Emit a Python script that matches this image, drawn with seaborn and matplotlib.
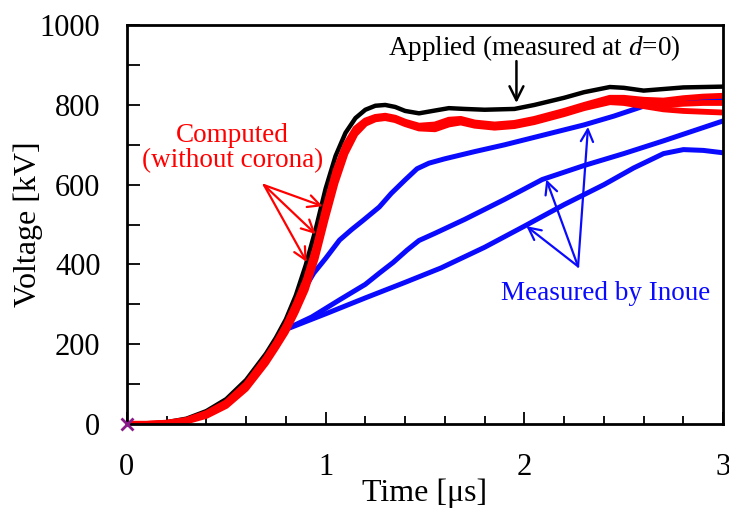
import matplotlib
matplotlib.use("Agg")
import matplotlib.pyplot as plt
import seaborn as sns
from matplotlib.ticker import MultipleLocator

# ---- data (time in µs, voltage in kV) ----
t_app = [0, 0.1, 0.2, 0.3, 0.4, 0.5, 0.6, 0.7, 0.75, 0.8, 0.85, 0.9, 0.95, 1.0, 1.05,
         1.1, 1.15, 1.2, 1.25, 1.3, 1.35, 1.4, 1.47, 1.55, 1.62, 1.7, 1.8, 1.95, 2.05,
         2.2, 2.3, 2.43, 2.5, 2.6, 2.7, 2.8, 2.9, 3.0]
v_app = [0, 0, 4, 13, 32, 62, 110, 176, 216, 262, 322, 398, 488, 590, 672,
         730, 767, 788, 798, 800, 795, 785, 779, 786, 792, 790, 788, 790, 800,
         818, 832, 845, 843, 836, 840, 844, 845, 846]

t_comp = [0, 0.1, 0.2, 0.3, 0.4, 0.5, 0.6, 0.7, 0.75, 0.8, 0.85, 0.9, 0.95, 1.0, 1.05,
          1.1, 1.15, 1.2, 1.25, 1.3, 1.35, 1.4, 1.47, 1.55, 1.62, 1.68, 1.75, 1.85,
          1.95, 2.05, 2.2, 2.3, 2.43, 2.5, 2.6, 2.7, 2.8, 2.9, 3.0]
v_comp1 = [0, 0, 3, 10, 27, 54, 100, 166, 204, 248, 302, 362, 444, 546, 636,
           700, 741, 761, 770, 773, 768, 758, 748, 751, 763, 765, 756, 751,
           755, 765, 785, 800, 818, 818, 813, 811, 817, 821, 823]
v_comp2 = [0, 0, 2, 8, 24, 50, 95, 160, 198, 240, 292, 350, 430, 530, 620,
           690, 735, 758, 768, 770, 765, 755, 745, 745, 757, 760, 752, 747,
           751, 761, 781, 796, 813, 813, 805, 800, 803, 805, 805]
v_comp3 = [0, 0, 1, 6, 20, 45, 88, 152, 190, 230, 280, 336, 414, 512, 604,
           678, 727, 753, 764, 767, 762, 752, 741, 739, 751, 756, 748, 743,
           747, 757, 777, 792, 807, 805, 797, 789, 785, 783, 781]

t_meas1 = [0.7, 0.8, 0.88, 0.94, 1.0, 1.07, 1.13, 1.19, 1.27, 1.33, 1.4, 1.46, 1.52,
           1.6, 1.75, 1.9, 2.1, 2.3, 2.45, 2.6, 2.7, 2.8, 2.9, 3.0]
v_meas1 = [165, 245, 328, 378, 415, 461, 487, 511, 544, 578, 612, 640, 654,
           665, 683, 700, 725, 750, 772, 797, 806, 810, 812, 814]

t_meas2 = [0.7, 0.79, 0.93, 1.07, 1.2, 1.27, 1.34, 1.41, 1.47, 1.55, 1.7, 1.9, 2.09,
           2.3, 2.5, 2.7, 2.85, 3.0]
v_meas2 = [165, 235, 268, 311, 350, 378, 405, 436, 460, 478, 513, 563, 613,
           648, 678, 710, 735, 760]

t_meas3 = [0.7, 0.79, 1.0, 1.2, 1.4, 1.58, 1.8, 2.0, 2.2, 2.4, 2.55, 2.7, 2.8, 2.9, 3.0]
v_meas3 = [165, 235, 276, 316, 355, 391, 443, 496, 550, 600, 642, 678, 688, 686, 680]

x_ticks = [0, 1, 2, 3]
y_ticks = [0, 200, 400, 600, 800, 1000]

# ---- style ----
sns.set_style("ticks")
plt.rcParams["font.family"] = ["Liberation Serif", "DejaVu Serif"]
plt.rcParams["mathtext.fontset"] = "custom"
plt.rcParams["mathtext.rm"] = "Liberation Serif"
plt.rcParams["mathtext.it"] = "Liberation Serif:italic"
plt.rcParams["text.color"] = "black"
plt.rcParams["axes.labelcolor"] = "black"

fig = plt.figure(figsize=(7.29, 5.15), dpi=100)
ax = fig.add_axes([0.174, 0.177, 0.818, 0.774])

BLUE = "#0a0aff"
RED = "#ff0000"

for t, v in [(t_meas1, v_meas1), (t_meas2, v_meas2), (t_meas3, v_meas3)]:
    sns.lineplot(x=t, y=v, ax=ax, color=BLUE, lw=3.6, estimator=None, sort=False)

sns.lineplot(x=t_app, y=v_app, ax=ax, color="black", lw=3.2, estimator=None, sort=False)

for v in [v_comp3, v_comp2, v_comp1]:
    sns.lineplot(x=t_comp, y=v, ax=ax, color=RED, lw=4.2, estimator=None, sort=False)

ax.plot([0], [0], marker="x", color="#8a1a8a", ms=9, mew=2, clip_on=False, zorder=10)

ax.set_xlim(0, 3)
ax.set_ylim(0, 1000)
ax.set_xticks(x_ticks)
ax.set_yticks(y_ticks)
ax.xaxis.set_minor_locator(MultipleLocator(0.2))
ax.yaxis.set_minor_locator(MultipleLocator(100))
ax.tick_params(which="both", direction="in", top=False, right=False,
               labelsize=22, width=1.3, colors="black", labelcolor="black")
ax.tick_params(which="major", length=9)
ax.tick_params(axis="x", which="major", pad=21)
ax.tick_params(axis="y", which="major", pad=19)
ax.tick_params(which="minor", length=6)
ax.tick_params(axis="y", which="minor", length=9)
for s in ax.spines.values():
    s.set_linewidth(2.0)
    s.set_color("black")

ax.set_xlabel("Time [\u03bcs]", fontsize=23, va="center")
ax.set_ylabel("Voltage [kV]", fontsize=23, va="center")
ax.xaxis.set_label_coords(0.5, -0.173)
ax.yaxis.set_label_coords(-0.165, 0.5)

# annotations
ax.text(2.05, 942, "Applied (measured at $d$=0)", fontsize=19.5, ha="center",
        va="center", color="black")
ax.annotate("", xy=(1.96, 805), xytext=(1.96, 910),
            arrowprops=dict(arrowstyle="->", lw=1.8, color="black",
                            mutation_scale=25, shrinkA=0, shrinkB=0))

ax.text(0.53, 692, "Computed\n(without corona)", fontsize=19.5, ha="center",
        va="center", color=RED, linespacing=1.0)
for hx, hy in [(0.985, 546), (0.95, 476), (0.905, 406)]:
    ax.annotate("", xy=(hx, hy), xytext=(0.69, 599),
                arrowprops=dict(arrowstyle="->", lw=1.6, color=RED,
                                mutation_scale=22, shrinkA=0, shrinkB=0))

ax.text(2.41, 328, "Measured by Inoue", fontsize=19.5, ha="center",
        va="center", color=BLUE)
for hx, hy in [(2.11, 613), (2.01, 496), (2.32, 745)]:
    ax.annotate("", xy=(hx, hy), xytext=(2.27, 395),
                arrowprops=dict(arrowstyle="->", lw=1.6, color=BLUE,
                                mutation_scale=22, shrinkA=0, shrinkB=0))

fig.savefig("out.png", dpi=100)
